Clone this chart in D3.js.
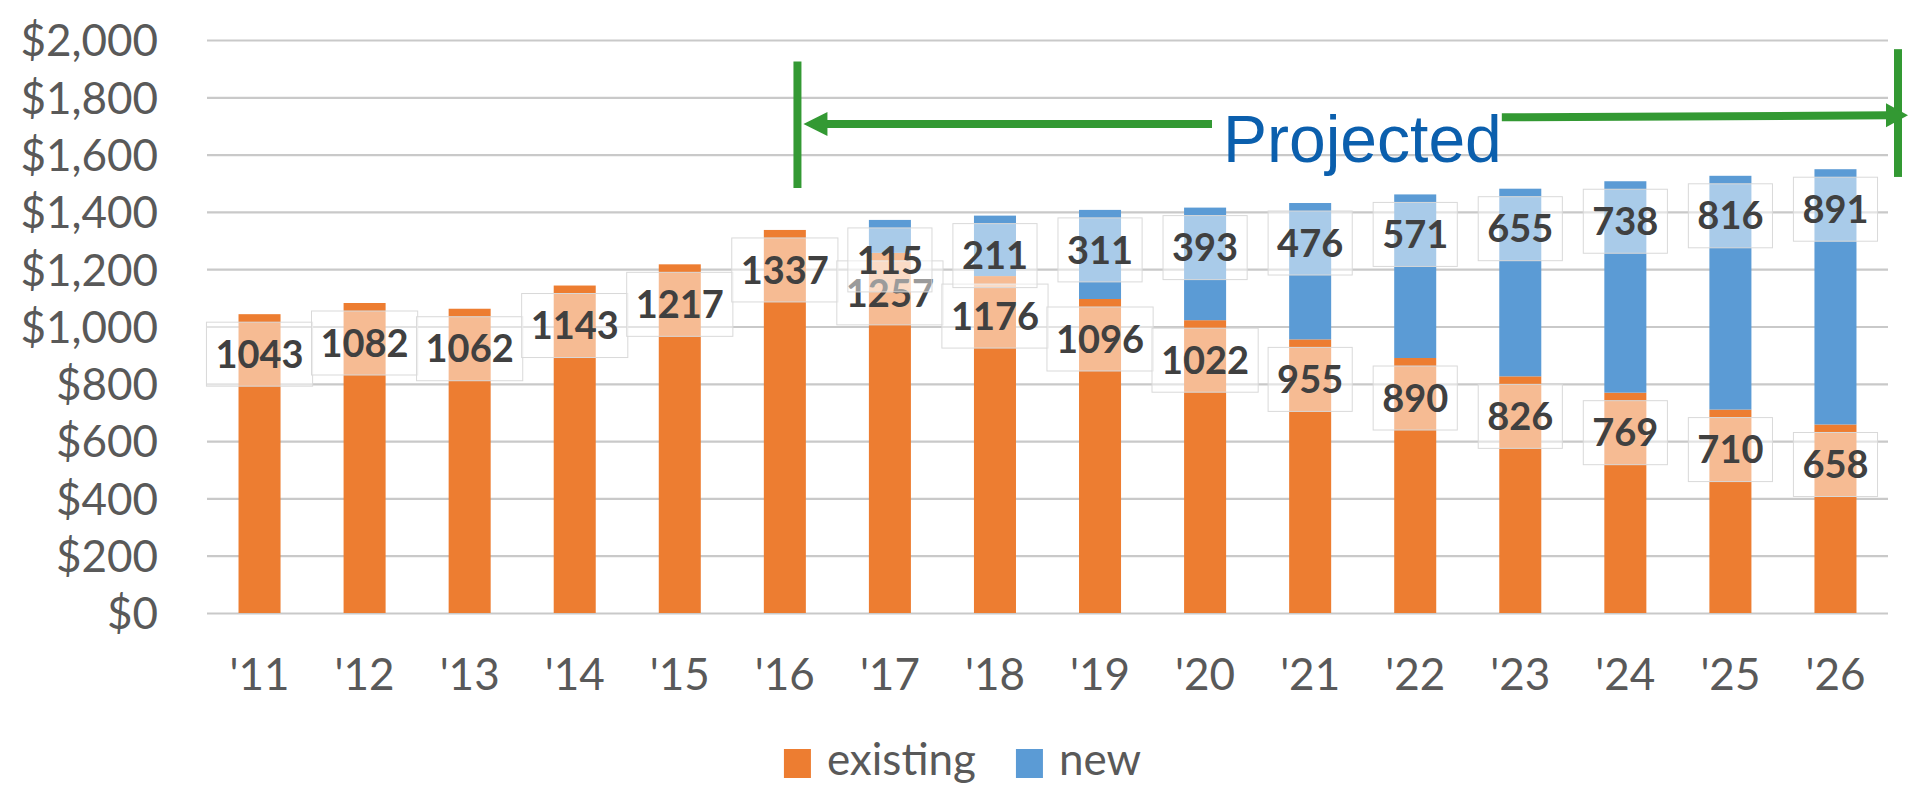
<!DOCTYPE html>
<html>
<head>
<meta charset="utf-8">
<script src="https://cdn.jsdelivr.net/npm/d3@7"></script>
<style>
  body { margin: 0; background: #fff; }
  svg { display: block; }
</style>
</head>
<body>
<div id="wrapper"></div>
<script>
// data
const years = ["'11", "'12", "'13", "'14", "'15", "'16", "'17", "'18", "'19", "'20", "'21", "'22", "'23", "'24", "'25", "'26"];
const existing = [1043, 1082, 1062, 1143, 1217, 1337, 1257, 1176, 1096, 1022, 955, 890, 826, 769, 710, 658];
const newSpend = [0, 0, 0, 0, 0, 0, 115, 211, 311, 393, 476, 571, 655, 738, 816, 891];
const yTicks = [0, 200, 400, 600, 800, 1000, 1200, 1400, 1600, 1800, 2000];
const seriesNames = ["existing", "new"];
const seriesColors = ["#ED7D31", "#5B9BD5"];
const projectedLabel = "Projected";

function drawChart() {
  // 1. dimensions
  let dimensions = {
    width: 1915,
    height: 785,
    margins: { top: 40, right: 27, bottom: 172, left: 207 },
  };
  dimensions.boundedWidth =
    dimensions.width - dimensions.margins.left - dimensions.margins.right;
  dimensions.boundedHeight =
    dimensions.height - dimensions.margins.top - dimensions.margins.bottom;

  // 2. svg
  const wrapper = d3
    .select("#wrapper")
    .append("svg")
    .attr("width", dimensions.width)
    .attr("height", dimensions.height);

  const bounds = wrapper
    .append("g")
    .attr("transform", `translate(${dimensions.margins.left},${dimensions.margins.top})`);

  // 3. scales
  const table = years.map((year, i) => ({ year, existing: existing[i], new: newSpend[i] }));
  const stacked = d3.stack().keys(seriesNames)(table);

  const xScale = d3
    .scaleBand()
    .domain(years)
    .range([0, dimensions.boundedWidth])
    .paddingInner(0.6)
    .paddingOuter(0.3);

  const yScale = d3
    .scaleLinear()
    .domain([0, 2000])
    .range([dimensions.boundedHeight, 0]);

  const colorScale = d3.scaleOrdinal().domain(seriesNames).range(seriesColors);

  // 4. axes + gridlines
  const yAxis = bounds
    .append("g")
    .call(
      d3.axisLeft(yScale)
        .tickValues(yTicks)
        .tickSize(-dimensions.boundedWidth)
        .tickPadding(49)
        .tickFormat(d3.format("$,"))
    );
  yAxis.select(".domain").remove();
  yAxis.selectAll("line").attr("stroke", "#C9C9C9").attr("stroke-width", 2.2);
  yAxis
    .selectAll("text")
    .attr("fill", "#595959")
    .style("font-family", "Lato, 'Noto Sans', sans-serif")
    .style("font-size", "44px")
    .attr("dy", "0.36em");

  const xAxis = bounds
    .append("g")
    .attr("transform", `translate(0,${dimensions.boundedHeight})`)
    .call(d3.axisBottom(xScale).tickSize(0));
  xAxis.select(".domain").remove();
  xAxis
    .selectAll("text")
    .attr("y", 77)
    .attr("dy", 0)
    .attr("fill", "#595959")
    .style("font-family", "Lato, 'Noto Sans', sans-serif")
    .style("font-size", "44px");

  // 5. bars
  const layers = bounds
    .selectAll(".layer")
    .data(stacked)
    .join("g")
    .attr("class", "layer")
    .attr("fill", (d) => colorScale(d.key));

  layers
    .selectAll("rect")
    .data((d) => d.filter((s) => s[1] - s[0] > 0))
    .join("rect")
    .attr("x", (d) => xScale(d.data.year))
    .attr("width", xScale.bandwidth())
    .attr("y", (d) => yScale(d[1]))
    .attr("height", (d) => yScale(d[0]) - yScale(d[1]));

  // 6. data labels (inside end, semi-transparent white boxes)
  const labelFont = 38;
  const boxHeight = 64;
  stacked.forEach((layer) => {
    const labelGroup = bounds.append("g").attr("class", "labels-" + layer.key);
    layer
      .filter((s) => s[1] - s[0] > 0)
      .forEach((s) => {
        const value = s[1] - s[0];
        const cx = xScale(s.data.year) + xScale.bandwidth() / 2;
        const top = yScale(s[1]) + 8;
        const g = labelGroup.append("g");
        const box = g.append("rect");
        const text = g
          .append("text")
          .attr("x", cx)
          .attr("y", top + boxHeight / 2 + labelFont * 0.36)
          .attr("text-anchor", "middle")
          .attr("fill", "#404040")
          .style("font-family", "Lato, 'Noto Sans', sans-serif")
          .style("font-weight", 700)
          .style("font-size", labelFont + "px")
          .text(value);
        const w = text.node().getComputedTextLength() + 18;
        box
          .attr("x", cx - w / 2)
          .attr("y", top)
          .attr("width", w)
          .attr("height", boxHeight)
          .attr("fill", "#fff")
          .attr("fill-opacity", 0.48)
          .attr("stroke", "#D9D9D9")
          .attr("stroke-width", 1);
      });
  });

  // 7. "Projected" annotation
  const green = "#339933";
  const leftX = xScale("'16") + xScale.bandwidth() * 0.8;
  const rightX = dimensions.boundedWidth + 10;
  const annot = bounds.append("g").attr("class", "annotation");

  annot.append("line")
    .attr("x1", leftX).attr("x2", leftX)
    .attr("y1", yScale(1925)).attr("y2", yScale(1483))
    .attr("stroke", green).attr("stroke-width", 8);
  annot.append("line")
    .attr("x1", rightX).attr("x2", rightX)
    .attr("y1", yScale(1968)).attr("y2", yScale(1522))
    .attr("stroke", green).attr("stroke-width", 8);

  const leftY = yScale(1707);
  const rightY = yScale(1730);
  const projText = annot
    .append("text")
    .attr("x", 1016)
    .attr("y", yScale(1574))
    .attr("fill", "#0B5FAD")
    .style("font-family", "'Liberation Sans', Arial, sans-serif")
    .style("font-size", "66px")
    .text(projectedLabel);
  const textW = projText.node().getComputedTextLength();
  const textX0 = 1016;
  const textX1 = textX0 + textW;

  annot.append("line")
    .attr("x1", leftX + 28).attr("x2", textX0 - 11)
    .attr("y1", leftY).attr("y2", leftY)
    .attr("stroke", green).attr("stroke-width", 8);
  annot.append("path")
    .attr("d", `M${leftX + 6},${leftY} L${leftX + 30},${leftY - 12} L${leftX + 30},${leftY + 12} Z`)
    .attr("fill", green);

  annot.append("line")
    .attr("x1", textX1).attr("x2", rightX - 8)
    .attr("y1", rightY).attr("y2", rightY - 2)
    .attr("stroke", green).attr("stroke-width", 8);
  annot.append("path")
    .attr("d", `M${rightX + 10},${rightY - 2} L${rightX - 12},${rightY - 14} L${rightX - 12},${rightY + 10} Z`)
    .attr("fill", green);

  // 8. legend
  const legend = wrapper.append("g").attr("class", "legend");
  let cursor = 0;
  seriesNames.forEach((name) => {
    const item = legend.append("g").attr("transform", `translate(${cursor},0)`);
    item.append("rect")
      .attr("x", 0).attr("y", 749)
      .attr("width", 27).attr("height", 29)
      .attr("fill", colorScale(name));
    const t = item.append("text")
      .attr("x", 43).attr("y", 775)
      .attr("fill", "#595959")
      .style("font-family", "Lato, 'Noto Sans', sans-serif")
      .style("font-size", "44px")
      .text(name);
    cursor += 43 + t.node().getComputedTextLength() + 40;
  });
  const legendW = cursor - 40;
  legend.attr("transform", `translate(${(dimensions.width - legendW) / 2 + 5},0)`);
}

drawChart();
</script>
</body>
</html>
